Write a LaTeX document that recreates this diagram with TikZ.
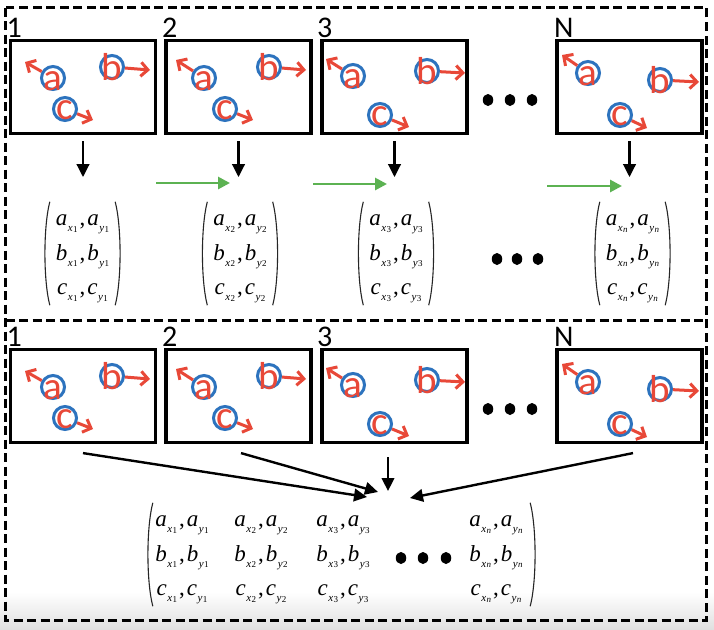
\documentclass[tikz,border=0pt]{standalone}
\usepackage{fontspec}
\setmainfont{Carlito}
\newfontfamily\tms{Liberation Serif}
\usetikzlibrary{arrows.meta,matrix,shapes.geometric}
\definecolor{rd}{RGB}{232,72,56}
\definecolor{bl}{RGB}{45,115,190}
\definecolor{gr}{RGB}{92,178,82}
\newcommand\ent[3]{{\tms\itshape #1\kern0.6pt\raisebox{-6pt}{\fontsize{11}{11}\selectfont #2\kern0.3pt\raisebox{-0.8pt}{\fontsize{9}{9}\selectfont\upshape #3}}}}
\newcommand\erow[2]{\ent{#1}{x}{#2}\kern2pt{\tms,}\kern2pt\ent{#1}{y}{#2}}
\tikzset{
  frame/.style={line width=3pt, dash pattern=on 9pt off 4.5pt},
  scenebox/.style={draw, line width=3.2pt, minimum width=145pt, minimum height=93pt, inner sep=0pt},
  numlab/.style={font=\fontsize{30}{30}\selectfont, inner sep=0pt, anchor=base west},
  ball/.style={draw=bl, line width=3pt, circle, minimum size=23pt, inner sep=0pt},
  lettr/.style={text=rd, font=\fontsize{39}{39}\selectfont, inner sep=0pt},
  redarr/.style={draw=rd, line width=3pt, -{Straight Barb[length=7pt,width=14pt]}},
  blk/.style={line width=2.4pt, -{Triangle[length=13pt,width=12.5pt]}},
  grn/.style={draw=gr, line width=2.8pt, -{Triangle[length=12pt,width=12pt]}},
  bigdot/.style={ellipse, fill=black, minimum width=10.5pt, minimum height=12pt, inner sep=0pt},
  vec/.style={matrix of nodes, inner sep=0pt, row sep=10.5pt,
    nodes={inner sep=0pt, text height=16pt, text depth=8pt, minimum width=54pt, anchor=center,
      font=\fontsize{23}{23}\selectfont}},
  paren/.style={line width=1.1pt, draw=black!85}
}
\newcommand\lpar[2]{\draw[paren] ([xshift=#2+5pt,yshift=7.5pt]#1.north west) .. controls ([xshift=#2-1.5pt,yshift=-17.5pt]#1.north west) and ([xshift=#2-1.5pt,yshift=22.5pt]#1.south west) .. ([xshift=#2+5pt,yshift=-2.5pt]#1.south west);}
\newcommand\rpar[2]{\draw[paren] ([xshift=#2-5pt,yshift=7.5pt]#1.north east) .. controls ([xshift=#2+1.5pt,yshift=-17.5pt]#1.north east) and ([xshift=#2+1.5pt,yshift=22.5pt]#1.south east) .. ([xshift=#2-5pt,yshift=-2.5pt]#1.south east);}
\newcommand\scenes[1]{%
  \foreach \k/\cx/\lab/\lx/\ax/\ay/\atx/\aty/\bx/\by/\btx/\bty/\ccx/\ccy/\ctx/\cty in {
    1/83/1/6.5/53/78/25/62/112/67/150/70/65/109/93/120,
    2/238.5/2/162/204/78/176/60/269/67/306/70/225/109/253/120,
    3/394.5/3/317/353/76/326/59/427/71/465/73/380/115/409/127,
    4/629.5/N/554/588/73/562/55/660/80/699/82/620/115/647/128}{
    \node[scenebox] (#1\k) at (\cx,87) {};
    \node[numlab] (#1L\k) at (\lx,37.5) {\lab};
    \node[ball] (#1ca\k) at (\ax,\ay) {};
    \node[ball] (#1cb\k) at (\bx,\by) {};
    \node[ball] (#1cc\k) at (\ccx,\ccy) {};
    \node[lettr] (#1la\k) at ([yshift=-3pt]#1ca\k.center) {a};
    \node[lettr] (#1lb\k) at (#1cb\k.center) {b};
    \node[lettr] (#1lc\k) at ([yshift=-1.5pt]#1cc\k.center) {c};
    \coordinate (#1ta\k) at (\atx,\aty);
    \coordinate (#1tb\k) at (\btx,\bty);
    \coordinate (#1tc\k) at (\ctx,\cty);
    \draw[redarr] (#1ca\k) -- (#1ta\k);
    \draw[redarr] (#1cb\k) -- (#1tb\k);
    \draw[redarr] (#1cc\k) -- (#1tc\k);
  }
  \node[bigdot] (#1d1) at (488,100) {};
  \node[bigdot] (#1d2) at (510,100) {};
  \node[bigdot] (#1d3) at (532,100) {};
}
\begin{document}
\begin{tikzpicture}[x=1pt,y=-1pt]
\useasboundingbox (0,0) rectangle (714,629);
\fill[white] (0,0) rectangle (714,629);
\shade[top color=white, bottom color=black!12] (0,592) rectangle (714,629);
% frames
\draw[frame] (5.5,7.5) rectangle (706.5,620.5);
\draw[frame] (5.5,320) -- (706.5,320);
% top section
\scenes{T}
\matrix (m1) [vec] at (82.5,256) {\erow{a}{1}\\ \erow{b}{1}\\ \erow{c}{1}\\};
\matrix (m2) [vec] at (240,256) {\erow{a}{2}\\ \erow{b}{2}\\ \erow{c}{2}\\};
\matrix (m3) [vec] at (396,256) {\erow{a}{3}\\ \erow{b}{3}\\ \erow{c}{3}\\};
\matrix (m4) [vec] at (632.5,256) {\erow{a}{\itshape n}\\ \erow{b}{\itshape n}\\ \erow{c}{\itshape n}\\};
\foreach \m in {m1,m2,m3,m4}{\lpar{\m}{-10.5pt}\rpar{\m}{10.5pt}}
\foreach \k in {1,2,3,4}{\draw[blk] ([yshift=-6pt]T\k.south) -- ([yshift=-42pt]T\k.south);}
\coordinate (g1s) at (156,183); \coordinate (g1e) at (230,183);
\coordinate (g2s) at (313,184); \coordinate (g2e) at (387,184);
\coordinate (g3s) at (547,186); \coordinate (g3e) at (622,186);
\draw[grn] (g1s) -- (g1e);
\draw[grn] (g2s) -- (g2e);
\draw[grn] (g3s) -- (g3e);
\node[bigdot] (md1) at (497,259) {};
\node[bigdot] (md2) at (517,259) {};
\node[bigdot] (md3) at (538,259) {};
% bottom section
\begin{scope}[yshift=-309pt]
\scenes{B}
\end{scope}
\matrix (n1) [vec] at (182,557) {\erow{a}{1}\\ \erow{b}{1}\\ \erow{c}{1}\\};
\matrix (n2) [vec] at (261,557) {\erow{a}{2}\\ \erow{b}{2}\\ \erow{c}{2}\\};
\matrix (n3) [vec] at (343,557) {\erow{a}{3}\\ \erow{b}{3}\\ \erow{c}{3}\\};
\matrix (n4) [vec] at (496,557) {\erow{a}{\itshape n}\\ \erow{b}{\itshape n}\\ \erow{c}{\itshape n}\\};
\lpar{n1}{-7pt}
\rpar{n4}{12pt}
\node[bigdot] (bd1) at (401,558) {};
\node[bigdot] (bd2) at (423,558) {};
\node[bigdot] (bd3) at (446,558) {};
\coordinate (e1) at (367,497);
\coordinate (e2) at (378,492);
\coordinate (e3) at (388,491);
\coordinate (e4) at (410,498);
\draw[blk] ([yshift=-9pt]B1.south) -- (e1);
\draw[blk] ([xshift=2.5pt,yshift=-9pt]B2.south) -- (e2);
\draw[blk] ([xshift=-6.5pt,yshift=-13pt]B3.south) -- (e3);
\draw[blk] ([xshift=3.5pt,yshift=-9pt]B4.south) -- (e4);
\end{tikzpicture}
\end{document}
